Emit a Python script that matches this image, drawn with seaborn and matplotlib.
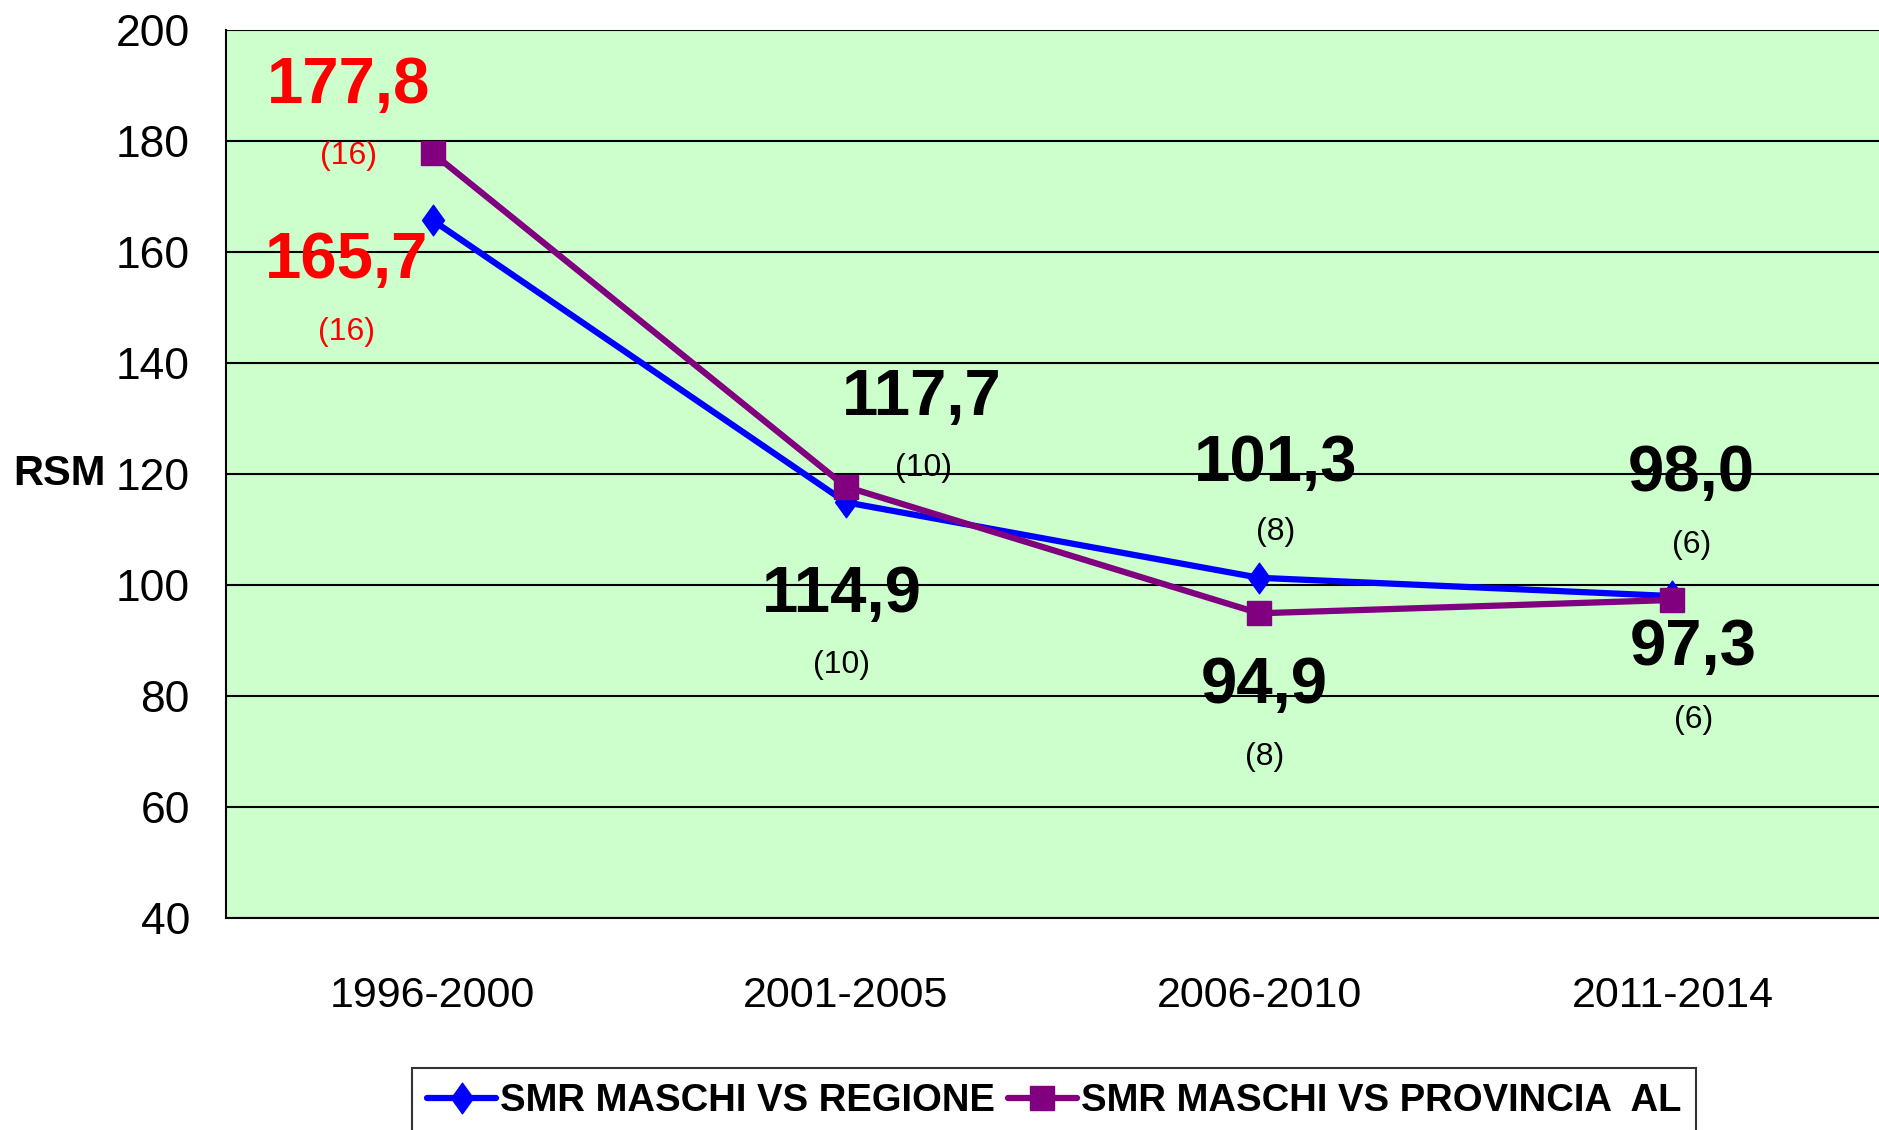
"""
SMR maschi 1996-2014: confronto vs Regione e vs Provincia AL.
"""

import numpy as np
import pandas as pd
import matplotlib
matplotlib.use("Agg")
import matplotlib.pyplot as plt
import seaborn as sns

# Data
periodi = ["1996-2000", "2001-2005", "2006-2010", "2011-2014"]
smr_regione = [165.7, 114.9, 101.3, 98.0]
smr_provincia = [177.8, 117.7, 94.9, 97.3]
casi = [16, 10, 8, 6]
label_regione = "SMR MASCHI VS REGIONE"
label_provincia = "SMR MASCHI VS PROVINCIA  AL"

sns.set_style("white")
plt.rcParams["font.family"] = ["Liberation Sans", "DejaVu Sans"]
plt.rcParams["text.color"] = "black"
plt.rcParams["axes.labelcolor"] = "black"
plt.rcParams["xtick.color"] = "black"
plt.rcParams["ytick.color"] = "black"

BLUE = "#0000FF"
PURPLE = "#800080"
BG = "#CCFFCC"

df_reg = pd.DataFrame({"periodo": np.arange(len(periodi)), "smr": smr_regione})
df_prov = pd.DataFrame({"periodo": np.arange(len(periodi)), "smr": smr_provincia})

fig = plt.figure(figsize=(18.79, 11.30), dpi=100)
ax = fig.add_axes([0.1203, 0.1876, 0.8797, 0.7859])
ax.set_facecolor(BG)

# tall diamond like the original marker
diamond = [(-0.72, 0), (0, 1), (0.72, 0), (0, -1), (-0.72, 0)]

sns.lineplot(data=df_reg, x="periodo", y="smr", ax=ax, color=BLUE, linewidth=4.5,
             marker=diamond, markersize=22, markeredgewidth=1, markeredgecolor=BLUE,
             label=label_regione)
sns.lineplot(data=df_prov, x="periodo", y="smr", ax=ax, color=PURPLE, linewidth=4.5,
             marker="s", markersize=17, markeredgewidth=1, markeredgecolor=PURPLE,
             label=label_provincia)

# Axes
ax.set_xlim(-0.5, len(periodi) - 0.5)
ax.set_ylim(40, 200)
ax.set_yticks(np.arange(40, 201, 20))
ax.yaxis.grid(True, color="black", linewidth=1.5)
ax.xaxis.grid(False)
ax.set_axisbelow(True)

ax.set_xticks(np.arange(-0.5, len(periodi), 1.0))
ax.set_xticklabels([])
ax.set_xticks(np.arange(len(periodi)), minor=True)
ax.set_xticklabels(periodi, minor=True)
ax.tick_params(axis="x", which="major", direction="out", length=13, width=1.5, color="black")
ax.tick_params(axis="x", which="minor", length=0, pad=42, labelsize=31)
ax.tick_params(axis="y", direction="out", length=10, width=1.5, color="black",
               pad=16, labelsize=32)

for side in ["top", "right"]:
    ax.spines[side].set_visible(False)
for side in ["left", "bottom"]:
    ax.spines[side].set_color("black")
    ax.spines[side].set_linewidth(1.5)

ax.set_xlabel("")
ax.set_ylabel("RSM", rotation=0, fontsize=30, fontweight="bold")
ax.yaxis.set_label_coords(-0.073, 0.5)
ax.yaxis.label.set_ha("right")
ax.yaxis.label.set_va("center")

# Labels: (value offset, count offset) in pixels from each point
off_reg = [((-86, -41), (-86, -112)), ((-4, -93), (-4, -163)),
           ((16, 114), (16, 46)), ((19, 122), (19, 51))]
off_prov = [((-84, 67), (-84, -3)), ((76, 89), (78, 19)),
            ((5, -73), (5, -144)), ((21, -48), (21, -120))]


def fmt(v):
    return f"{v:.1f}".replace(".", ",")


for vals, offs in [(smr_regione, off_reg), (smr_provincia, off_prov)]:
    for i, (v, n) in enumerate(zip(vals, casi)):
        col = "red" if i == 0 else "black"
        (dv, dn) = offs[i]
        ax.annotate(fmt(v), xy=(i, v), xytext=dv, textcoords="offset pixels",
                    ha="center", va="center", fontsize=47, fontweight="bold", color=col)
        ax.annotate(f"({n})", xy=(i, v), xytext=dn, textcoords="offset pixels",
                    ha="center", va="center", fontsize=23, color=col)

# Legend
handles, labels = ax.get_legend_handles_labels()
leg = fig.legend(handles, labels, loc="upper center", bbox_to_anchor=(0.561, 0.0549),
                 ncol=2, frameon=True, fancybox=False, edgecolor="black",
                 prop={"size": 27.5, "weight": "bold"}, handlelength=1.8,
                 handletextpad=0.1, columnspacing=0.35, borderpad=0.4,
                 borderaxespad=0)
leg.get_frame().set_linewidth(1.5)
if ax.get_legend() is not None:
    ax.get_legend().remove()

fig.savefig("out.png", dpi=100)
